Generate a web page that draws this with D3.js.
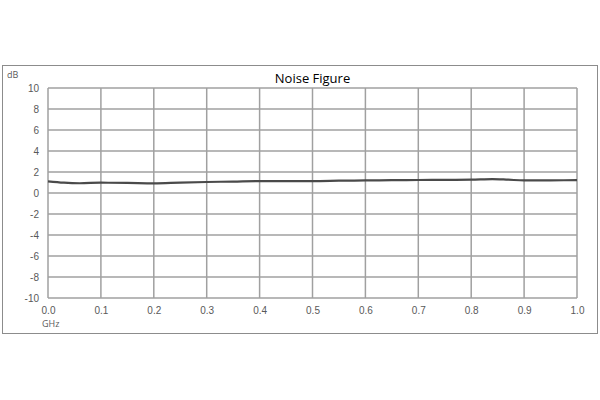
<!DOCTYPE html>
<html>
<head>
<meta charset="utf-8">
<script src="https://cdn.jsdelivr.net/npm/d3@7"></script>
<style>
  body { margin: 0; background: #fff; }
  svg { display: block; font-family: "Open Sans", "Noto Sans", sans-serif; }
</style>
</head>
<body>
<script>
// datos de la curva (GHz, dB)
var frecuencias = [0.0, 0.03, 0.06, 0.1, 0.15, 0.2, 0.25, 0.3, 0.35, 0.4, 0.45, 0.5, 0.55, 0.6, 0.65, 0.7, 0.75, 0.8, 0.84, 0.87, 0.9, 0.95, 1.0];
var ruido = [1.11, 0.98, 0.93, 0.98, 0.96, 0.92, 0.99, 1.05, 1.09, 1.14, 1.14, 1.14, 1.17, 1.2, 1.22, 1.24, 1.25, 1.27, 1.33, 1.27, 1.2, 1.21, 1.22];
var ticksX = [0, 0.1, 0.2, 0.3, 0.4, 0.5, 0.6, 0.7, 0.8, 0.9, 1.0];
var ticksY = [-10, -8, -6, -4, -2, 0, 2, 4, 6, 8, 10];

var width = 600;
var height = 400;

var margen = { arriba: 88, abajo: 102, izquierda: 48, derecha: 23 };

var svg = d3.select("body").append("svg")
    .attr("width", width)
    .attr("height", height);

// marco exterior
svg.append("rect")
    .attr("x", 2.5).attr("y", 65.5)
    .attr("width", 595).attr("height", 268)
    .attr("fill", "#fff")
    .attr("stroke", "#8c8c8c")
    .attr("stroke-width", 1);

var escalaX = d3.scaleLinear()
    .domain([0, 1])
    .range([margen.izquierda, width - margen.derecha]);

var escalaY = d3.scaleLinear()
    .domain([-10, 10])
    .range([height - margen.abajo, margen.arriba]);

// rejilla
svg.append("g").selectAll("line")
    .data(ticksX)
    .join("line")
    .attr("x1", d => escalaX(d)).attr("x2", d => escalaX(d))
    .attr("y1", escalaY(-10)).attr("y2", escalaY(10))
    .attr("stroke", "#a0a0a0").attr("stroke-width", 1.5);

svg.append("g").selectAll("line")
    .data(ticksY)
    .join("line")
    .attr("x1", escalaX(0)).attr("x2", escalaX(1))
    .attr("y1", d => escalaY(d)).attr("y2", d => escalaY(d))
    .attr("stroke", "#a0a0a0").attr("stroke-width", 1.5);

// ejes
var ejeX = d3.axisBottom(escalaX).tickValues(ticksX).tickFormat(d3.format(".1f")).tickSize(0).tickPadding(9);
var gX = svg.append("g")
    .attr("transform", "translate(0," + escalaY(-10) + ")")
    .call(ejeX);

// guion normal en los negativos, como en el original
var ejeY = d3.axisLeft(escalaY).tickValues(ticksY).tickFormat(d => String(d)).tickSize(0).tickPadding(9);
var gY = svg.append("g")
    .attr("transform", "translate(" + escalaX(0) + ",0)")
    .call(ejeY);

[gX, gY].forEach(function (g) {
    g.select(".domain").remove();
    g.selectAll("text")
        .attr("fill", "#595959")
        .style("font-size", "10px");
});

// curva
var linea = d3.line()
    .x((d, i) => escalaX(frecuencias[i]))
    .y(d => escalaY(d))
    .curve(d3.curveMonotoneX);

svg.append("path")
    .datum(ruido)
    .attr("d", linea)
    .attr("fill", "none")
    .attr("stroke", "#4a4a4a")
    .attr("stroke-width", 2.2);

// textos
svg.append("text")
    .attr("x", (escalaX(0) + escalaX(1)) / 2)
    .attr("y", 83)
    .attr("text-anchor", "middle")
    .attr("fill", "#000")
    .style("font-size", "13px")
    .text("Noise Figure");

svg.append("text")
    .attr("x", 7).attr("y", 78)
    .attr("fill", "#595959")
    .style("font-size", "9px")
    .text("dB");

svg.append("text")
    .attr("x", 42).attr("y", 327)
    .attr("fill", "#595959")
    .style("font-size", "9px")
    .text("GHz");
</script>
</body>
</html>
